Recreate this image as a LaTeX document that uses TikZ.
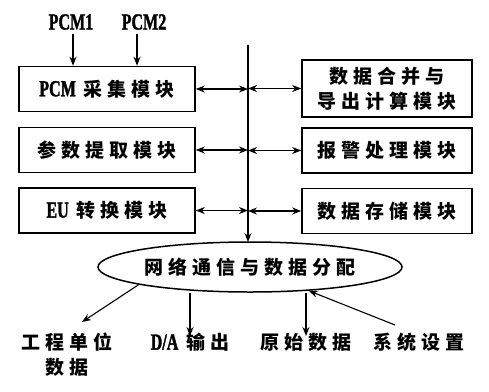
\documentclass[tikz,border=0pt]{standalone}
\usepackage{fontspec}
\newfontfamily\lat{Liberation Serif Bold}[FakeStretch=0.7, FakeBold=1.5]
\newfontfamily\cjk{Noto Sans CJK SC}[LetterSpace=26]
\usepackage{tikz}
\usetikzlibrary{
  shapes.geometric,
  arrows.meta,
  positioning
}
\newcommand{\lt}[1]{{\lat\fontsize{23}{25}\selectfont #1}\hspace{8pt}}

\begin{document}
\begin{tikzpicture}[
  x=1pt, y=-1pt,
  box/.style={rectangle, draw=black, minimum height=45pt, minimum width=#1, align=center, font=\fontsize{19}{25}\selectfont\bfseries, inner sep=0pt, line width=1.6pt},
  arrow/.style={-{Stealth[length=9pt, width=7pt]}, line width=1.1pt},
  biarrow/.style={{Stealth[length=9pt, width=7pt]}-{Stealth[length=9pt, width=7pt]}, line width=1.1pt},
  label/.style={font=\fontsize{19}{25}\selectfont\bfseries, align=center, inner sep=0pt},
  latin/.style={font=\lat\fontsize{23}{25}\selectfont, inner sep=0pt}
]
\useasboundingbox (0,0) rectangle (489,391);

% Input labels
\node[latin] (pcm1) at (71,22) {PCM1};
\node[latin] (pcm2) at (144,22) {PCM2};

% Left column nodes
\node[box=176pt] (collect) at (107,89) {\lt{PCM}{\cjk 采集模块}};
\node[box=176pt] (extract) at (107,150) {\cjk 参数提取模块};
\node[box=176pt] (convert) at (107,210.5) {\lt{EU}{\cjk 转换模块}};

% Right column nodes
\node[box=170pt, minimum height=57pt] (merge) at (387,88.5) {\cjk 数据合并与\\\cjk 导出计算模块};
\node[box=170pt] (alarm) at (387,150.5) {\cjk 报警处理模块};
\node[box=170pt] (store) at (387,211) {\cjk 数据存储模块};

% Bus and network node
\coordinate (bus) at (248,45);
\node[ellipse, draw=black, line width=1.5pt, minimum width=304pt, minimum height=50pt, inner sep=0pt, font=\fontsize{19}{25}\selectfont\bfseries] (network) at (250,267) {\cjk 网络通信与数据分配};
\coordinate (busend) at (248,242);

% Output labels
\node[label, anchor=north] (unit) at (67,333) {\cjk 工程单位\\\cjk 数据};
\node[label, anchor=north] (da) at (190,333) {\lt{D/A}{\cjk 输出}};
\node[label, anchor=north] (raw) at (306,333) {\cjk 原始数据};
\node[label, anchor=north] (setup) at (419,333) {\cjk 系统设置};
\coordinate (unittip) at (82,322);
\coordinate (setuptail) at (395,325);

% Arrows from inputs and along the bus
\draw[arrow] (pcm1.south -| 73,0) ++(0,4) -- (collect.north -| 73,0);
\draw[arrow] (pcm2.south -| 137,0) ++(0,4) -- (collect.north -| 137,0);
\draw[arrow] (bus) -- (busend);

% Arrows between modules and bus
\draw[biarrow] (collect.east) -- (collect.east -| bus);
\draw[biarrow] (extract.east) -- (extract.east -| bus);
\draw[biarrow] (convert.east) -- (convert.east -| bus);
\draw[biarrow] (merge.west -| bus) -- (merge.west);
\draw[biarrow] (alarm.west -| bus) -- (alarm.west);
\draw[biarrow] (store.west -| bus) -- (store.west);

% Arrows to outputs
\draw[arrow] (network.189) -- (unittip);
\draw[arrow] (da.north |- network.south) -- ([yshift=-3pt]da.north);
\draw[arrow] (raw.north |- network.south) -- ([yshift=-3pt]raw.north);
\draw[arrow] (setuptail) -- (network.-22);

\end{tikzpicture}
\end{document}
